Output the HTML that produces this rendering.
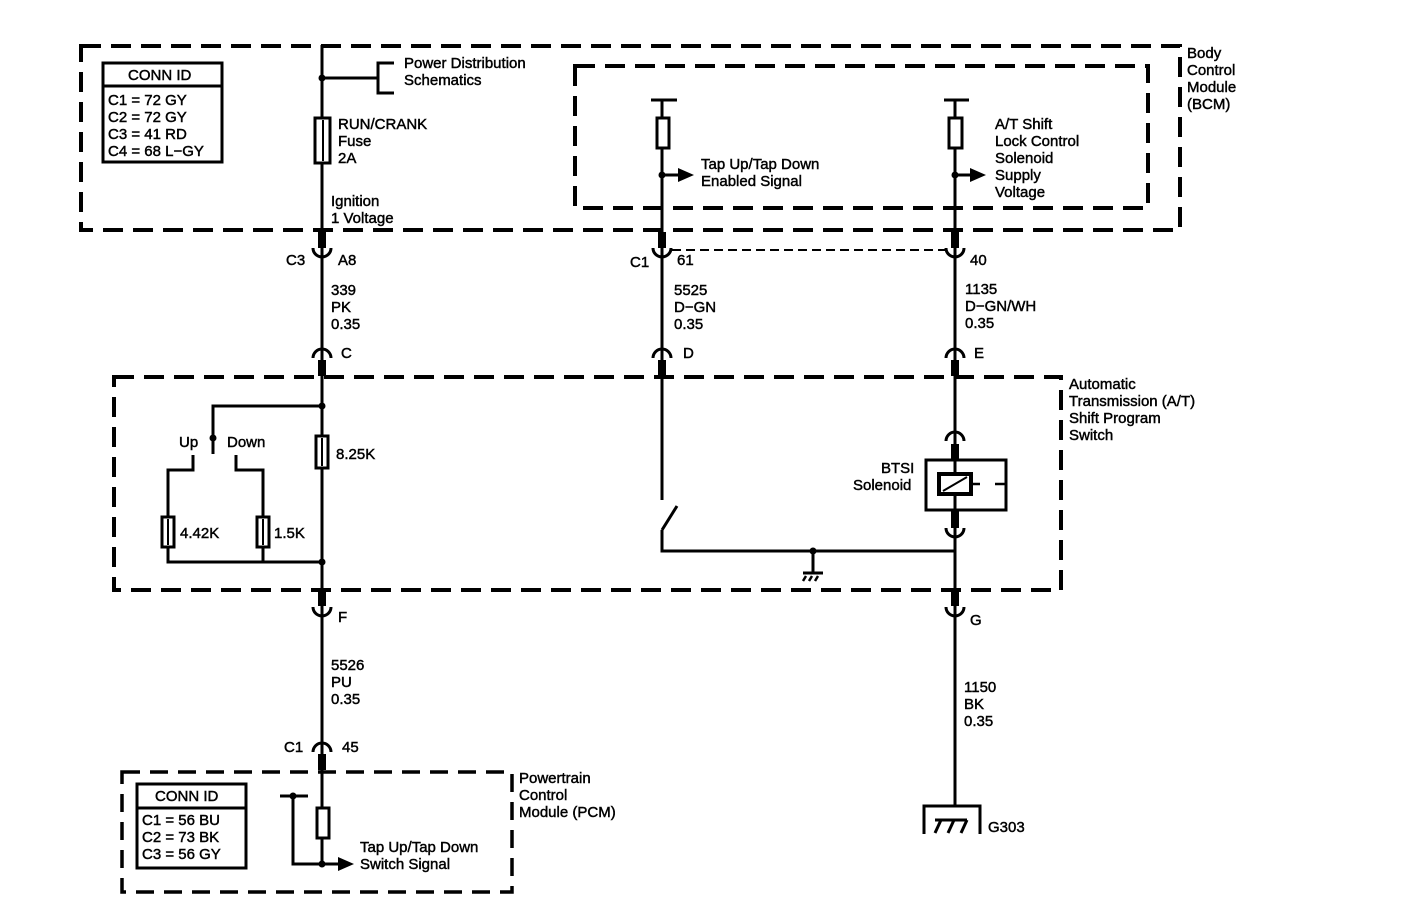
<!DOCTYPE html>
<html><head><meta charset="utf-8"><style>
html,body{margin:0;padding:0;background:#fff}
svg{display:block}
text{font-family:"Liberation Sans",Arial,sans-serif;font-size:15px;fill:#000;stroke:#000;stroke-width:0.45}
</style></head><body>
<svg width="1408" height="920" viewBox="0 0 1408 920" xmlns="http://www.w3.org/2000/svg">
<g fill="none" stroke="#000">
<rect x="81" y="46" width="1099" height="184" stroke-width="4" stroke-dasharray="20,10"/>
<rect x="575" y="66" width="573" height="142" stroke-width="4" stroke-dasharray="20,10"/>
<rect x="114" y="377" width="947" height="213" stroke-width="4" stroke-dasharray="20,10"/>
<rect x="122" y="772" width="390" height="120" stroke-width="3.5" stroke-dasharray="18,10"/>
<line x1="672" y1="250" x2="948" y2="250" stroke-width="2" stroke-dasharray="9,5"/>

<g stroke-width="3">
<line x1="322" y1="45" x2="322" y2="864"/>
<line x1="322" y1="78" x2="378" y2="78"/>
<polyline points="394,63 378,63 378,93 394,93"/>
<line x1="662" y1="100" x2="662" y2="500"/>
<line x1="651" y1="100" x2="677" y2="100"/>
<line x1="662" y1="175" x2="680" y2="175"/>
<line x1="955" y1="100" x2="955" y2="805"/>
<line x1="944" y1="100" x2="969" y2="100"/>
<line x1="955" y1="175" x2="972" y2="175"/>
<polyline points="322,406 213,406 213,438"/>
<line x1="213" y1="438" x2="213" y2="454"/>
<polyline points="193,455 193,470 168,470 168,562 322,562"/>
<polyline points="236,455 236,470 263,470 263,562"/>
<line x1="677" y1="506" x2="662" y2="530"/>
<polyline points="662,530 662,551 955,551"/>
<line x1="813" y1="551" x2="813" y2="572"/>
<line x1="803" y1="573" x2="823" y2="573"/>
<line x1="280" y1="796" x2="308" y2="796"/>
<polyline points="293,796 293,864 340,864"/>
<polyline points="924,834 924,806 980,806 980,834"/>
<line x1="935" y1="833" x2="941" y2="820"/>
<line x1="948" y1="833" x2="954" y2="820"/>
<line x1="961" y1="833" x2="967" y2="820"/>
<line x1="935" y1="820" x2="967" y2="820"/>
</g>
<g stroke-width="2.5">
<line x1="806" y1="576" x2="803" y2="581"/><line x1="812" y1="576" x2="809" y2="581"/><line x1="818" y1="576" x2="815" y2="581"/>
</g>

<g fill="#fff" stroke-width="3">
<rect x="315" y="118" width="15" height="45"/>
<rect x="657" y="118" width="12" height="30"/>
<rect x="949" y="118" width="13" height="30"/>
<rect x="316" y="436" width="12" height="32"/>
<rect x="162" y="517" width="12" height="30"/>
<rect x="257" y="517" width="12" height="30"/>
<rect x="317" y="808" width="12" height="30"/>
</g>
<line x1="323" y1="120" x2="323" y2="161" stroke-width="2"/>
<line x1="168" y1="519" x2="168" y2="545" stroke-width="2"/>
<line x1="263" y1="519" x2="263" y2="545" stroke-width="2"/>
<line x1="322" y1="438" x2="322" y2="466" stroke-width="2"/>

<rect x="926" y="460" width="80" height="50" fill="#fff" stroke-width="3"/>
<line x1="955" y1="460" x2="955" y2="474" stroke-width="3"/>
<line x1="955" y1="494" x2="955" y2="510" stroke-width="3"/>
<rect x="939" y="474" width="32" height="20" fill="#fff" stroke-width="4"/>
<line x1="943" y1="491" x2="967" y2="477" stroke-width="2"/>
<line x1="971" y1="484" x2="980" y2="484" stroke-width="2.5"/>
<line x1="995" y1="484" x2="1006" y2="484" stroke-width="2.5"/>

<g stroke-width="3">
<path d="M313,248 A9,9 0 0 0 331,248"/>
<path d="M653,248 A9,9 0 0 0 671,248"/>
<path d="M946,248 A9,9 0 0 0 964,248"/>
<path d="M313,358 A9,9 0 0 1 331,358"/>
<path d="M653,358 A9,9 0 0 1 671,358"/>
<path d="M946,358 A9,9 0 0 1 964,358"/>
<path d="M946,441 A9,9 0 0 1 964,441"/>
<path d="M946,528 A9,9 0 0 0 964,528"/>
<path d="M313,607 A9,9 0 0 0 331,607"/>
<path d="M946,607 A9,9 0 0 0 964,607"/>
<path d="M313,752 A9,9 0 0 1 331,752"/>
</g>
</g>
<g fill="#000">
<rect x="318" y="232" width="8" height="16"/>
<rect x="658" y="232" width="8" height="16"/>
<rect x="951" y="232" width="8" height="16"/>
<rect x="318" y="360" width="8" height="16"/>
<rect x="658" y="360" width="8" height="16"/>
<rect x="951" y="360" width="8" height="16"/>
<rect x="951" y="444" width="8" height="16"/>
<rect x="951" y="510" width="8" height="18"/>
<rect x="318" y="590" width="8" height="16"/>
<rect x="951" y="590" width="8" height="16"/>
<rect x="318" y="754" width="8" height="16"/>
<circle cx="322" cy="78" r="3.5"/>
<circle cx="662" cy="175" r="3.5"/>
<circle cx="955" cy="175" r="3.5"/>
<circle cx="322" cy="406" r="3.5"/>
<circle cx="322" cy="562" r="3.5"/>
<circle cx="213" cy="438" r="3.5"/>
<circle cx="813" cy="551" r="3.5"/>
<circle cx="293" cy="796" r="3.5"/>
<circle cx="322" cy="864" r="3.5"/>
<polygon points="678,168 694,175 678,182"/>
<polygon points="970,168 986,175 970,182"/>
<polygon points="338,857 354,864 338,871"/>
</g>

<g fill="none" stroke="#000" stroke-width="3">
<rect x="103" y="63" width="119" height="99"/>
<line x1="103" y1="86" x2="222" y2="86"/>
<rect x="137" y="784" width="109" height="84"/>
<line x1="137" y1="808" x2="246" y2="808"/>
</g>
<text x="128" y="80">CONN ID</text>
<text x="108" y="105">C1 = 72 GY</text>
<text x="108" y="122">C2 = 72 GY</text>
<text x="108" y="139">C3 = 41 RD</text>
<text x="108" y="156">C4 = 68 L−GY</text>
<text x="155" y="801">CONN ID</text>
<text x="142" y="825">C1 = 56 BU</text>
<text x="142" y="842">C2 = 73 BK</text>
<text x="142" y="859">C3 = 56 GY</text>

<text x="404" y="68">Power Distribution</text>
<text x="404" y="85">Schematics</text>
<text x="338" y="129">RUN/CRANK</text>
<text x="338" y="146">Fuse</text>
<text x="338" y="163">2A</text>
<text x="331" y="206">Ignition</text>
<text x="331" y="223">1 Voltage</text>
<text x="1187" y="58">Body</text>
<text x="1187" y="75">Control</text>
<text x="1187" y="92">Module</text>
<text x="1187" y="109">(BCM)</text>
<text x="701" y="169">Tap Up/Tap Down</text>
<text x="701" y="186">Enabled Signal</text>
<text x="995" y="129">A/T Shift</text>
<text x="995" y="146">Lock Control</text>
<text x="995" y="163">Solenoid</text>
<text x="995" y="180">Supply</text>
<text x="995" y="197">Voltage</text>
<text x="286" y="265">C3</text>
<text x="338" y="265">A8</text>
<text x="331" y="295">339</text>
<text x="331" y="312">PK</text>
<text x="331" y="329">0.35</text>
<text x="341" y="358">C</text>
<text x="630" y="267">C1</text>
<text x="677" y="265">61</text>
<text x="674" y="295">5525</text>
<text x="674" y="312">D−GN</text>
<text x="674" y="329">0.35</text>
<text x="683" y="358">D</text>
<text x="970" y="265">40</text>
<text x="965" y="294">1135</text>
<text x="965" y="311">D−GN/WH</text>
<text x="965" y="328">0.35</text>
<text x="974" y="358">E</text>
<text x="1069" y="389">Automatic</text>
<text x="1069" y="406">Transmission (A/T)</text>
<text x="1069" y="423">Shift Program</text>
<text x="1069" y="440">Switch</text>
<text x="179" y="447">Up</text>
<text x="227" y="447">Down</text>
<text x="336" y="459">8.25K</text>
<text x="180" y="538">4.42K</text>
<text x="274" y="538">1.5K</text>
<text x="881" y="473">BTSI</text>
<text x="853" y="490">Solenoid</text>
<text x="338" y="622">F</text>
<text x="970" y="625">G</text>
<text x="331" y="670">5526</text>
<text x="331" y="687">PU</text>
<text x="331" y="704">0.35</text>
<text x="964" y="692">1150</text>
<text x="964" y="709">BK</text>
<text x="964" y="726">0.35</text>
<text x="284" y="752">C1</text>
<text x="342" y="752">45</text>
<text x="519" y="783">Powertrain</text>
<text x="519" y="800">Control</text>
<text x="519" y="817">Module (PCM)</text>
<text x="360" y="852">Tap Up/Tap Down</text>
<text x="360" y="869">Switch Signal</text>
<text x="988" y="832">G303</text>
</svg>
</body></html>
